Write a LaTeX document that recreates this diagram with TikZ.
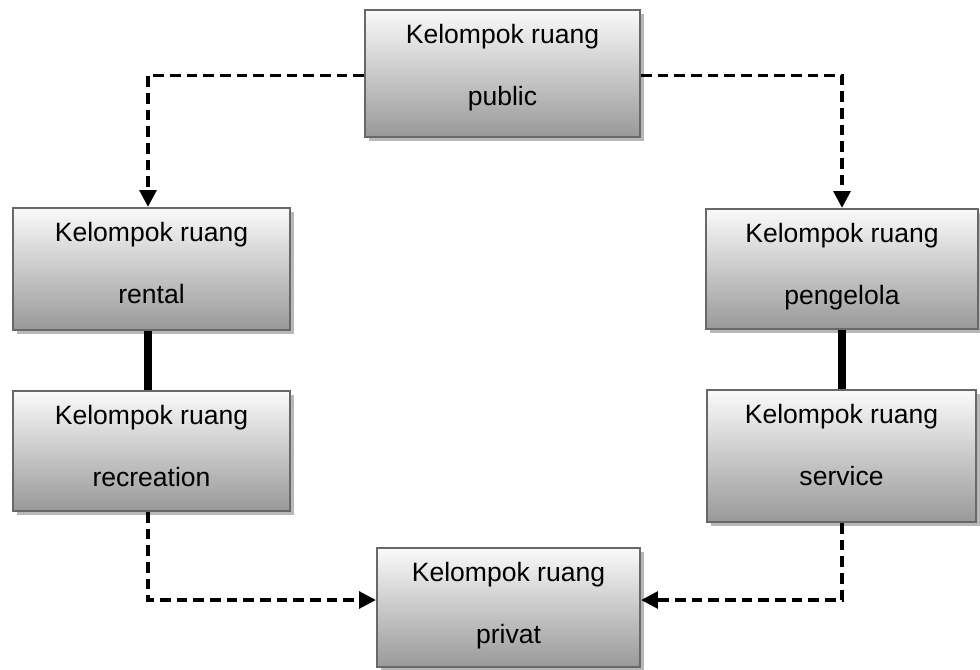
\documentclass[tikz,border=0pt]{standalone}
\usepackage{fontspec}
\setmainfont{Liberation Sans}
\usetikzlibrary{arrows.meta,calc,fit,shadows}

\definecolor{boxedge}{HTML}{686868}
\definecolor{boxshadow}{HTML}{B8B8B8}

\tikzset{
  roombox/.style={
    rectangle, inner sep=0pt, draw=boxedge, line width=1.7pt,
    top color=black!2, bottom color=black!40,
    drop shadow={shadow xshift=3pt, shadow yshift=-3pt, fill=boxshadow, opacity=1}
  },
  roomtext/.style={anchor=base, inner sep=0pt, font=\fontsize{19.9}{24}\selectfont},
  flowline/.style={line width=2.6pt, dash pattern=on 8pt off 4.5pt,
    -{Triangle[length=12.5pt, width=12.5pt]}},
  tieline/.style={line width=5.5pt}
}

% one room group: name, top-left corner, bottom-right corner, second line
\newcommand\ruanggroup[4]{%
  \node[roombox, fit={#2 #3}] (#1) {};
  \node[roomtext] (#1-a) at ($(#1.north)+(0,35)$) {Kelompok ruang};
  \node[roomtext] (#1-b) at ($(#1.north)+(0,97)$) {#4};
}

\begin{document}
\begin{tikzpicture}[x=0.75pt, y=-0.75pt]
  \useasboundingbox (0,0) rectangle (980,669);

  \ruanggroup{public}{(365,10)}{(640,137)}{public}
  \ruanggroup{rental}{(13,208)}{(290,330)}{rental}
  \ruanggroup{recreation}{(13,391)}{(290,511)}{recreation}
  \ruanggroup{pengelola}{(706,209)}{(978,329)}{pengelola}
  \ruanggroup{service}{(707,390)}{(976,522)}{service}
  \ruanggroup{privat}{(377,548)}{(640,667)}{privat}

  % dashed flows out of the public group
  \draw[flowline] ($(public.west)+(0,2)$) -| ($(rental.north)+(-3.5,0)$);
  \draw[flowline] ($(public.east)+(0,2)$) -| (pengelola.north);

  % solid ties between paired groups
  \draw[tieline] ($(rental.south)+(-3.5,0)$) -- ($(recreation.north)+(-3.5,0)$);
  \draw[tieline] (pengelola.south) -- ($(service.north)+(0.5,0)$);

  % dashed flows into the privat group
  \draw[flowline] ($(recreation.south)+(-3.5,0)$) |- ($(privat.west)+(0,-7.5)$);
  \draw[flowline] ($(service.south)+(0.5,0)$) |- ($(privat.east)+(0,-7.5)$);
\end{tikzpicture}
\end{document}
